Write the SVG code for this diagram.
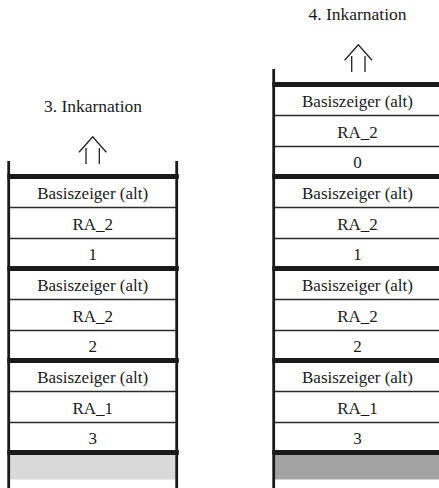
<svg xmlns="http://www.w3.org/2000/svg" width="439" height="488" viewBox="0 0 439 488">
<style>
.t{font-family:"Liberation Serif","DejaVu Serif",serif;font-size:17px;fill:#1a1a1a;text-anchor:middle}
.title{font-size:17.5px}
.wall{fill:#1a1a1a}
.bar{fill:#1a1a1a}
.thin{stroke:#2a2a2a;stroke-width:1.3}
.arr{stroke:#222;stroke-width:1.3;fill:none}
</style>
<rect width="439" height="488" fill="#fff"/>
<g id="stack3">
<text class="t title" x="93" y="112" font-family="Liberation Serif">3. Inkarnation</text>
<rect x="10" y="455" width="166" height="24.5" fill="#d9d9d9"/>
<rect class="wall" x="7.3" y="161" width="2.8" height="327"/>
<rect class="wall" x="175.3" y="161" width="2.8" height="327"/>
<g id="l-bars">
<rect class="bar" x="7.3" y="174" width="171.5" height="5"/>
<rect class="bar" x="7.3" y="266" width="171.5" height="5"/>
<rect class="bar" x="7.3" y="358" width="171.5" height="5"/>
<rect class="bar" x="7.3" y="450" width="171.5" height="5"/>
<line class="thin" x1="10" y1="207.5" x2="176" y2="207.5"/>
<line class="thin" x1="10" y1="238.5" x2="176" y2="238.5"/>
<line class="thin" x1="10" y1="299.5" x2="176" y2="299.5"/>
<line class="thin" x1="10" y1="330.5" x2="176" y2="330.5"/>
<line class="thin" x1="10" y1="391.5" x2="176" y2="391.5"/>
<line class="thin" x1="10" y1="422.5" x2="176" y2="422.5"/>
</g>
<g id="l-arrow">
<polyline class="arr" points="79,152.3 92.7,136.7 106.3,152.3"/>
<line class="arr" x1="86" y1="148" x2="86" y2="164"/>
<line class="arr" x1="99.3" y1="148" x2="99.3" y2="164"/>
</g>
<text class="t" x="92.7" y="199">Basiszeiger (alt)</text>
<text class="t" x="92.7" y="229.5">RA_2</text>
<text class="t" x="92.7" y="260">1</text>
<text class="t" x="92.7" y="291">Basiszeiger (alt)</text>
<text class="t" x="92.7" y="321.5">RA_2</text>
<text class="t" x="92.7" y="352">2</text>
<text class="t" x="92.7" y="383">Basiszeiger (alt)</text>
<text class="t" x="92.7" y="413.5">RA_1</text>
<text class="t" x="92.7" y="444">3</text>
</g>
<g id="stack4">
<text class="t title" x="357.5" y="20" font-family="DejaVu Serif">4. Inkarnation</text>
<rect x="275" y="455" width="164" height="24.5" fill="#a3a3a3"/>
<rect class="wall" x="272.3" y="69" width="2.8" height="419"/>
<g id="r-bars">
<rect class="bar" x="272.3" y="82" width="167" height="5"/>
<rect class="bar" x="272.3" y="174" width="167" height="5"/>
<rect class="bar" x="272.3" y="266" width="167" height="5"/>
<rect class="bar" x="272.3" y="358" width="167" height="5"/>
<rect class="bar" x="272.3" y="450" width="167" height="5"/>
<line class="thin" x1="275" y1="115.5" x2="439" y2="115.5"/>
<line class="thin" x1="275" y1="146.5" x2="439" y2="146.5"/>
<line class="thin" x1="275" y1="207.5" x2="439" y2="207.5"/>
<line class="thin" x1="275" y1="238.5" x2="439" y2="238.5"/>
<line class="thin" x1="275" y1="299.5" x2="439" y2="299.5"/>
<line class="thin" x1="275" y1="330.5" x2="439" y2="330.5"/>
<line class="thin" x1="275" y1="391.5" x2="439" y2="391.5"/>
<line class="thin" x1="275" y1="422.5" x2="439" y2="422.5"/>
</g>
<g id="r-arrow">
<polyline class="arr" points="344.6,60.3 358.3,44.7 372,60.3"/>
<line class="arr" x1="351.7" y1="56" x2="351.7" y2="72"/>
<line class="arr" x1="365" y1="56" x2="365" y2="72"/>
</g>
<text class="t" x="357.5" y="107">Basiszeiger (alt)</text>
<text class="t" x="357.5" y="137.5">RA_2</text>
<text class="t" x="357.5" y="168">0</text>
<text class="t" x="357.5" y="199">Basiszeiger (alt)</text>
<text class="t" x="357.5" y="229.5">RA_2</text>
<text class="t" x="357.5" y="260">1</text>
<text class="t" x="357.5" y="291">Basiszeiger (alt)</text>
<text class="t" x="357.5" y="321.5">RA_2</text>
<text class="t" x="357.5" y="352">2</text>
<text class="t" x="357.5" y="383">Basiszeiger (alt)</text>
<text class="t" x="357.5" y="413.5">RA_1</text>
<text class="t" x="357.5" y="444">3</text>
</g>
</svg>
